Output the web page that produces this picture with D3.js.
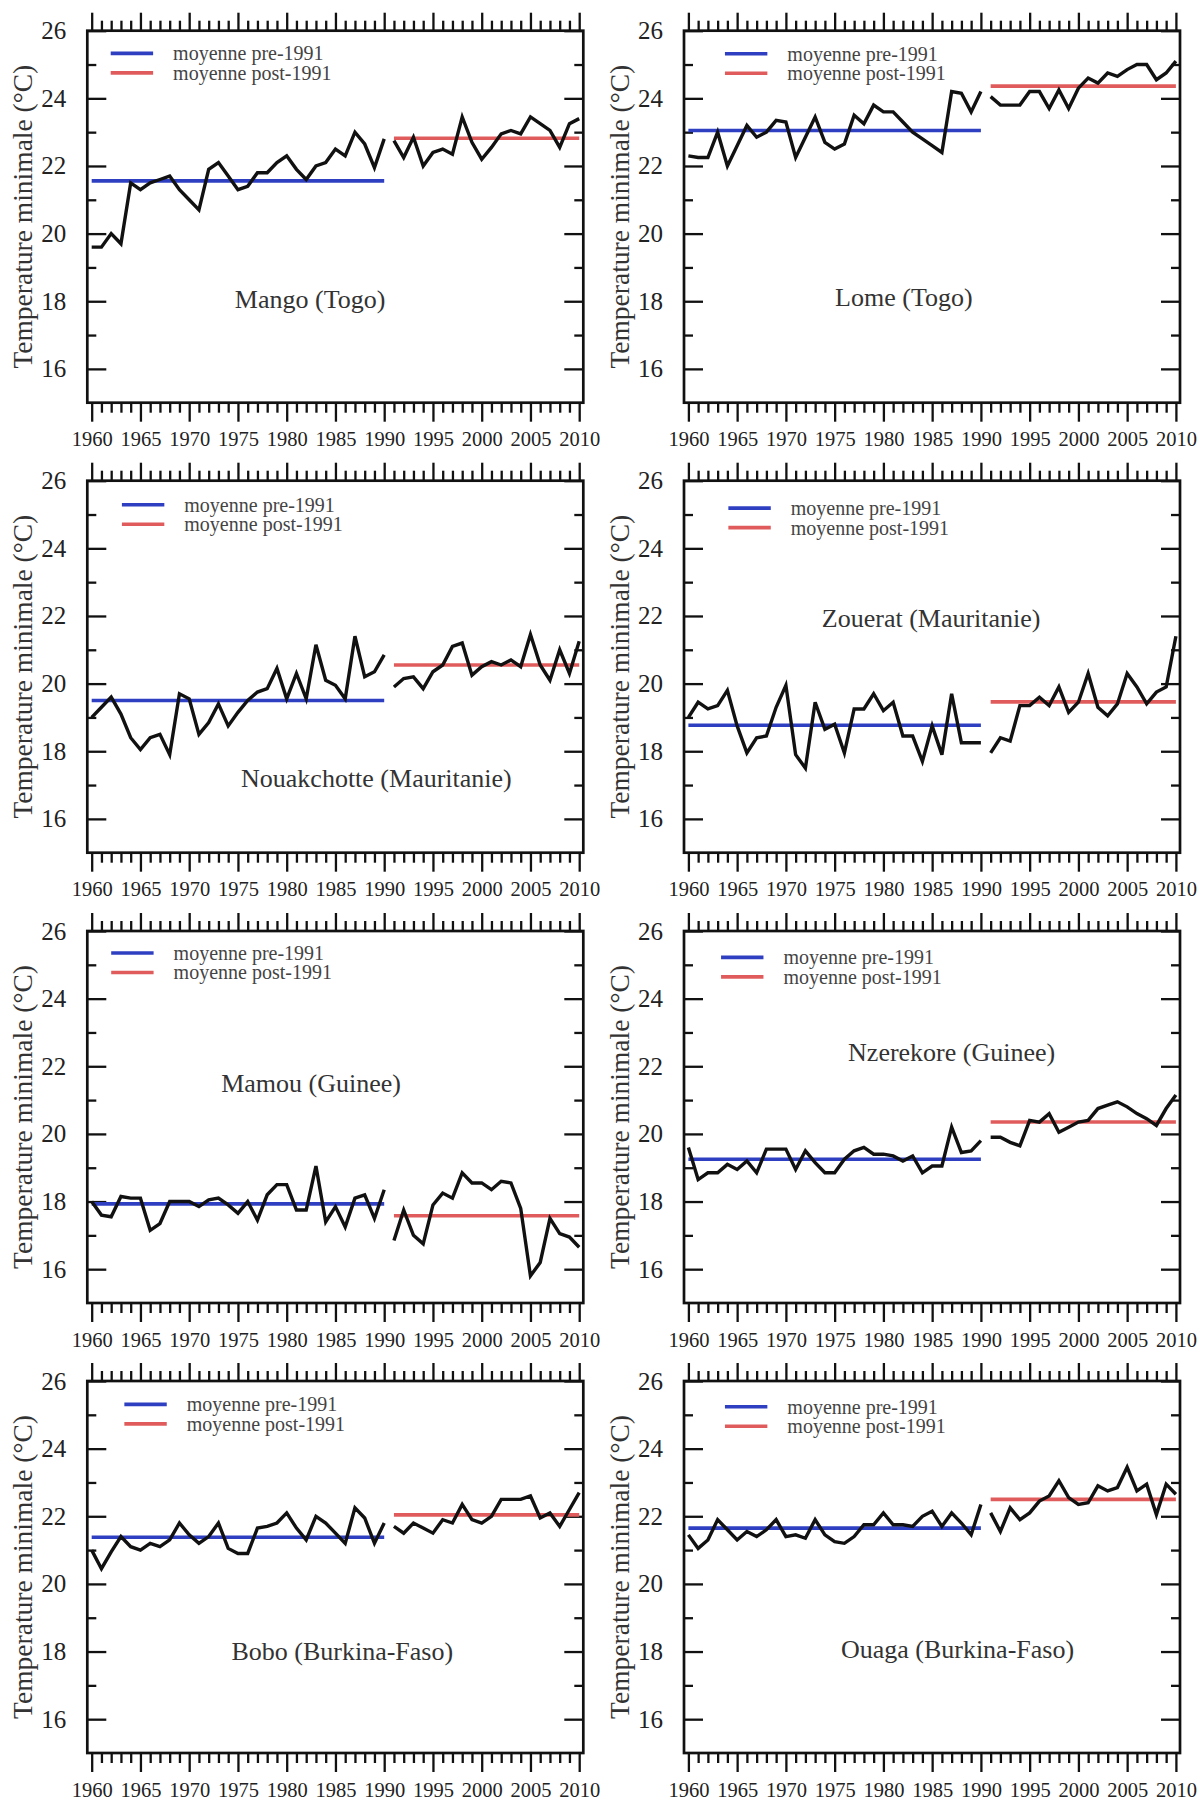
<!DOCTYPE html>
<html>
<head>
<meta charset="utf-8">
<script src="https://cdn.jsdelivr.net/npm/d3@7"></script>
<style>
  html, body { margin: 0; padding: 0; background: #fff; }
  svg { display: block; }
  text { font-family: "Liberation Serif", "Times New Roman", serif; }
</style>
</head>
<body>
<script>
// ---------- DATA ----------
const years = [1960,1961,1962,1963,1964,1965,1966,1967,1968,1969,1970,1971,1972,1973,1974,1975,1976,1977,1978,1979,
  1980,1981,1982,1983,1984,1985,1986,1987,1988,1989,1990,1991,1992,1993,1994,1995,1996,1997,1998,1999,
  2000,2001,2002,2003,2004,2005,2006,2007,2008,2009,2010];

const stations = ["Mango (Togo)", "Lome (Togo)", "Nouakchotte (Mauritanie)", "Zouerat (Mauritanie)",
  "Mamou (Guinee)", "Nzerekore (Guinee)", "Bobo (Burkina-Faso)", "Ouaga (Burkina-Faso)"];

const mango = [19.6,19.6,20.0,19.7,21.5,21.3,21.5,21.6,21.7,21.3,21.0,20.7,21.9,22.1,21.7,21.3,21.4,21.8,21.8,22.1,
  22.3,21.9,21.6,22.0,22.1,22.5,22.3,23.0,22.65,21.95,22.8,
  22.75,22.25,22.85,22.0,22.4,22.5,22.35,23.45,22.7,22.2,22.55,22.95,23.05,22.95,23.45,23.25,23.05,22.55,23.25,23.4];
const lome = [22.3,22.25,22.25,23.0,22.0,22.6,23.2,22.85,23.0,23.35,23.3,22.25,22.85,23.45,22.7,22.5,22.65,23.5,23.25,23.8,
  23.6,23.6,23.3,23.0,22.8,22.6,22.4,24.2,24.15,23.6,24.2,
  24.05,23.8,23.8,23.8,24.2,24.2,23.7,24.25,23.7,24.3,24.6,24.45,24.75,24.65,24.85,25.0,25.0,24.55,24.75,25.1];
const nouakchotte = [19.0,19.3,19.6,19.1,18.4,18.05,18.4,18.5,17.9,19.7,19.55,18.5,18.85,19.4,18.75,19.15,19.5,19.75,19.85,20.45,
  19.55,20.3,19.55,21.15,20.1,19.95,19.55,21.4,20.2,20.35,20.85,
  19.9,20.15,20.2,19.85,20.35,20.55,21.1,21.2,20.25,20.5,20.65,20.55,20.7,20.5,21.45,20.55,20.1,21.0,20.3,21.25];
const zouerat = [19.0,19.45,19.25,19.35,19.8,18.75,17.95,18.4,18.45,19.3,19.95,17.9,17.5,19.45,18.65,18.8,17.95,19.25,19.25,19.7,
  19.2,19.45,18.45,18.45,17.7,18.75,17.9,19.7,18.25,18.25,18.25,
  17.95,18.4,18.3,19.35,19.35,19.6,19.35,19.9,19.15,19.45,20.3,19.3,19.05,19.4,20.3,19.9,19.4,19.75,19.9,21.4];
const mamou = [18.0,17.6,17.55,18.15,18.1,18.1,17.15,17.35,18.0,18.0,18.0,17.85,18.05,18.1,17.9,17.65,18.0,17.45,18.2,18.5,
  18.5,17.75,17.75,19.05,17.4,17.85,17.25,18.1,18.2,17.5,18.35,
  16.85,17.75,17.0,16.75,17.9,18.25,18.1,18.85,18.55,18.55,18.35,18.6,18.55,17.8,15.8,16.2,17.5,17.05,16.95,16.65];
const nzerekore = [19.6,18.65,18.85,18.85,19.1,18.95,19.2,18.85,19.55,19.55,19.55,18.95,19.5,19.15,18.85,18.85,19.25,19.5,19.6,19.4,
  19.4,19.35,19.2,19.35,18.85,19.05,19.05,20.2,19.45,19.5,19.8,
  19.9,19.9,19.75,19.65,20.4,20.35,20.6,20.05,20.2,20.35,20.4,20.75,20.85,20.95,20.8,20.6,20.45,20.25,20.75,21.15];
const bobo = [21.0,20.45,20.95,21.4,21.1,21.0,21.2,21.1,21.3,21.8,21.45,21.2,21.4,21.8,21.05,20.9,20.9,21.65,21.7,21.8,
  22.1,21.65,21.3,22.0,21.8,21.5,21.2,22.25,21.95,21.2,21.8,
  21.7,21.5,21.8,21.65,21.5,21.9,21.8,22.35,21.9,21.8,22.0,22.5,22.5,22.5,22.6,21.95,22.1,21.7,22.2,22.7];
const ouaga = [21.45,21.05,21.3,21.9,21.6,21.3,21.55,21.4,21.6,21.9,21.4,21.45,21.35,21.9,21.45,21.25,21.2,21.4,21.75,21.75,
  22.1,21.75,21.75,21.7,22.0,22.15,21.7,22.1,21.8,21.45,22.35,
  22.1,21.55,22.25,21.9,22.1,22.45,22.6,23.05,22.55,22.35,22.4,22.9,22.75,22.85,23.45,22.75,22.95,22.05,22.95,22.65];

const series = [mango, lome, nouakchotte, zouerat, mamou, nzerekore, bobo, ouaga];

const meanPre  = [21.56, 23.05, 19.5, 18.77, 17.93, 19.25, 21.38, 21.65];
const meanPost = [22.82, 24.36, 20.55, 19.46, 17.58, 20.35, 22.04, 22.5];

const legendLabels = ["moyenne pre-1991", "moyenne post-1991"];
const yTickLabels = [16, 18, 20, 22, 24, 26];
const yMinorTicks = [17, 19, 21, 23, 25];
const xMajorTicks = [1960,1965,1970,1975,1980,1985,1990,1995,2000,2005,2010];
const yTitle = "Temperature minimale (°C)";

// ---------- LAYOUT (positions in data units, per panel) ----------
const labelPos = [[1982.4,18.06],[1982.1,18.11],[1989.2,17.18],[1984.9,21.92],
                  [1982.5,21.49],[1987.0,22.42],[1985.7,18.01],[1987.6,18.06]];
const legendPos = [[1961.95,25.33],[1963.75,25.32],[1963.1,25.29],[1964.1,25.19],
                   [1962.0,25.35],[1963.35,25.22],[1963.35,25.31],[1963.75,25.24]];

const W = 1204, H = 1802;
const colLeft = [87.3, 684];
const rowTop = [30.7, 480.7, 931, 1381];
const boxW = 496, boxH = 372;
const BLUE = "#2f3fc2", RED = "#e05c5c";

const svg = d3.select("body").append("svg").attr("width", W).attr("height", H);

series.forEach((vals, i) => {
  const col = i % 2, row = Math.floor(i / 2);
  const g = svg.append("g").attr("transform", `translate(${colLeft[col]},${rowTop[row]})`);

  const x = d3.scaleLinear().domain([1959.55, 2010.42]).range([0, boxW]);
  const y = d3.scaleLinear().domain([15, 26]).range([boxH, 0]);

  const minorYears = years.filter(v => v % 5 !== 0);

  const styleAxis = sel => {
    sel.select(".domain").remove();
    sel.selectAll(".tick line").attr("stroke", "#111").attr("stroke-width", 2.3);
    sel.selectAll(".tick text").attr("fill", "#222");
  };

  // top axis (outward)
  g.append("g").call(d3.axisTop(x).tickValues(xMajorTicks).tickSize(18).tickFormat("")).call(styleAxis);
  g.append("g").call(d3.axisTop(x).tickValues(minorYears).tickSize(10).tickFormat("")).call(styleAxis);
  // bottom axis (outward)
  g.append("g").attr("transform", `translate(0,${boxH})`)
    .call(d3.axisBottom(x).tickValues(minorYears).tickSize(10).tickFormat("")).call(styleAxis);
  const bx = g.append("g").attr("transform", `translate(0,${boxH})`)
    .call(d3.axisBottom(x).tickValues(xMajorTicks).tickSize(19).tickPadding(10).tickFormat(d3.format("d")))
    .call(styleAxis);
  bx.selectAll(".tick text").attr("font-size", 20.5).attr("font-family", "Liberation Serif");

  // left axis (inward)
  const ly = g.append("g")
    .call(d3.axisLeft(y).tickValues(yTickLabels).tickSize(-19).tickPadding(21).tickFormat(d3.format("d")))
    .call(styleAxis);
  ly.selectAll(".tick text").attr("font-size", 25).attr("font-family", "Liberation Serif");
  g.append("g").call(d3.axisLeft(y).tickValues(yMinorTicks).tickSize(-9).tickFormat("")).call(styleAxis);
  // right axis (inward)
  g.append("g").attr("transform", `translate(${boxW},0)`)
    .call(d3.axisRight(y).tickValues(yTickLabels).tickSize(-19).tickFormat("")).call(styleAxis);
  g.append("g").attr("transform", `translate(${boxW},0)`)
    .call(d3.axisRight(y).tickValues(yMinorTicks).tickSize(-9).tickFormat("")).call(styleAxis);

  // y title
  g.append("text")
    .attr("transform", `translate(${-65},${boxH / 2}) rotate(-90)`)
    .attr("text-anchor", "middle").attr("dominant-baseline", "central")
    .attr("font-size", 27.5).attr("fill", "#333").text(yTitle);

  // mean lines
  g.append("line").attr("x1", x(1960)).attr("x2", x(1990))
    .attr("y1", y(meanPre[i])).attr("y2", y(meanPre[i]))
    .attr("stroke", BLUE).attr("stroke-width", 3.6);
  g.append("line").attr("x1", x(1991)).attr("x2", x(2010))
    .attr("y1", y(meanPost[i])).attr("y2", y(meanPost[i]))
    .attr("stroke", RED).attr("stroke-width", 3.6);

  // data line (gap between 1990 and 1991)
  const pts = years.map((yr, k) => ({ yr, v: vals[k] }));
  const line = d3.line().x(d => x(d.yr)).y(d => y(d.v));
  [pts.filter(d => d.yr <= 1990), pts.filter(d => d.yr >= 1991)].forEach(seg => {
    g.append("path").attr("d", line(seg)).attr("fill", "none")
      .attr("stroke", "#111").attr("stroke-width", 3.4).attr("stroke-linejoin", "miter");
  });

  // legend
  const [lx, lyv] = legendPos[i];
  [[BLUE, 0], [RED, 1]].forEach(([c, k]) => {
    const yy = y(lyv) + k * 19.5;
    g.append("line").attr("x1", x(lx)).attr("x2", x(lx + 4.35))
      .attr("y1", yy).attr("y2", yy).attr("stroke", c).attr("stroke-width", 3.6);
    g.append("text").attr("x", x(lx + 6.4)).attr("y", yy)
      .attr("dominant-baseline", "central").attr("font-size", 20).attr("fill", "#444")
      .text(legendLabels[k]);
  });

  // station label
  g.append("text").attr("x", x(labelPos[i][0])).attr("y", y(labelPos[i][1]))
    .attr("text-anchor", "middle").attr("dominant-baseline", "central")
    .attr("font-size", 26).attr("fill", "#333").text(stations[i]);

  // box
  g.append("rect").attr("x", 0).attr("y", 0).attr("width", boxW).attr("height", boxH)
    .attr("fill", "none").attr("stroke", "#111").attr("stroke-width", 2.7);
});
</script>
</body>
</html>
